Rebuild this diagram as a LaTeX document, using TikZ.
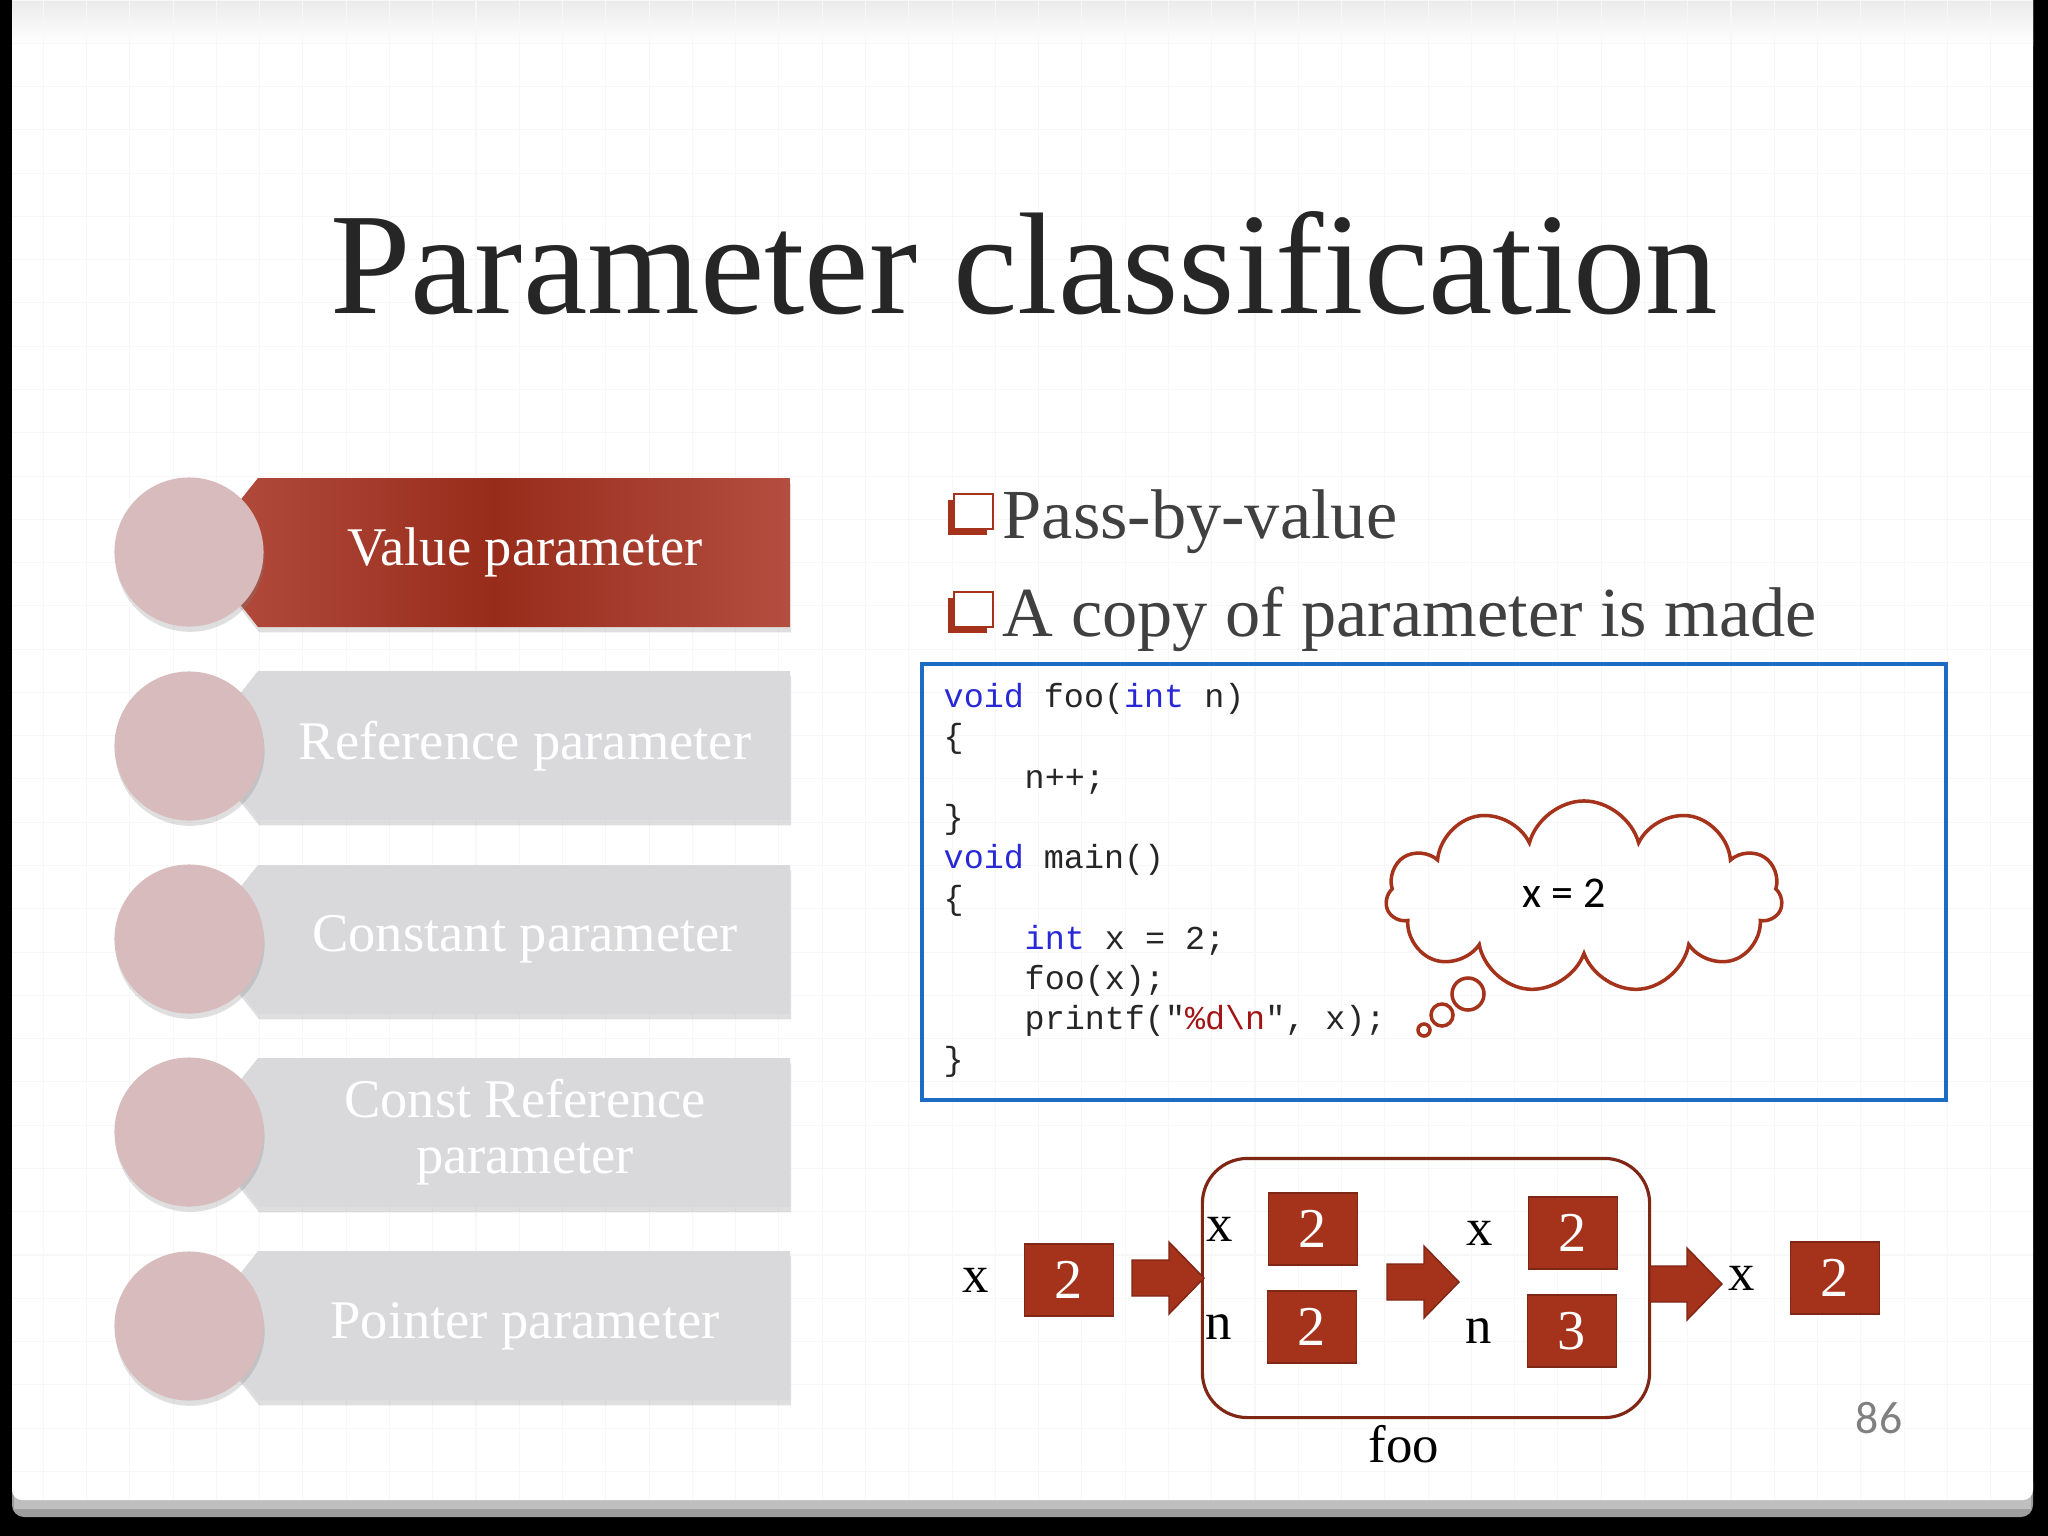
\documentclass[tikz,border=0pt]{standalone}
\usepackage{fontspec}
\setmainfont{Liberation Serif}
\setmonofont{Liberation Mono}
\newfontfamily\calfont{Carlito}
\usetikzlibrary{positioning,shapes.symbols,shadows}

\definecolor{slidered}{RGB}{165,50,26}
\definecolor{edgered}{RGB}{128,38,21}
\definecolor{hlred}{RGB}{180,78,64}
\definecolor{hldark}{RGB}{152,44,27}
\definecolor{dotpink}{RGB}{216,187,188}
\definecolor{boxgrey}{RGB}{217,216,219}
\definecolor{codeblue}{RGB}{28,108,196}
\definecolor{kwblue}{RGB}{40,40,215}
\definecolor{strred}{RGB}{163,21,21}
\definecolor{textgrey}{RGB}{64,64,64}
\definecolor{numgrey}{RGB}{128,128,128}
\definecolor{gridgrey}{RGB}{247,247,248}

\tikzset{
  itemshadow/.style={drop shadow={shadow xshift=0.3pt,shadow yshift=-1.5pt,opacity=0.25}},
  greybox/.style={fill=boxgrey,itemshadow},
  dot/.style={circle,fill=dotpink,minimum size=1.49cm,inner sep=0pt,itemshadow},
  itemtext/.style={text=white,font=\fontsize{15.5}{16}\selectfont,align=center},
  bullettext/.style={anchor=base west,inner sep=0pt,text=textgrey,font=\fontsize{20}{24}\selectfont},
  codeline/.style={anchor=base west,inner sep=0pt,text=black!85,font=\fontsize{9.5}{11}\ttfamily},
  valbox/.style={fill=slidered,draw=edgered,line width=0.5pt,minimum width=0.89cm,minimum height=0.72cm,inner sep=0pt,text=white,font=\fontsize{16}{18}\selectfont},
  varlabel/.style={inner sep=0pt,font=\fontsize{15}{17}\selectfont},
  blockarrow/.style={fill=slidered,draw=edgered,line width=0.4pt},
  cloudline/.style={draw=slidered,line width=1pt}
}
\newcommand{\kwd}[1]{\textcolor{kwblue}{#1}}
\newcommand{\sqbullet}[2]{%
  \fill[slidered] (#1,#2+6) rectangle (#1+39,#2+41);
  \filldraw[fill=white,draw=slidered,line width=0.8pt] (#1+6,#2) rectangle (#1+45,#2+35);}
\newcommand{\blockarrow}[2]{%
  \filldraw[blockarrow] (#1,#2-18) -- (#1+37,#2-18) -- (#1+37,#2-36) -- (#1+72,#2)
    -- (#1+37,#2+36) -- (#1+37,#2+18) -- (#1,#2+18) -- cycle;}

\begin{document}
\begin{tikzpicture}[x=0.01cm,y=-0.01cm]
\useasboundingbox (0,0) rectangle (2048,1536);
\fill[black] (0,0) rectangle (2048,1536);
\fill[black!38,rounded corners=0.12cm] (12,1470) rectangle (2033,1517);
\fill[black!25] (14,1470) rectangle (2031,1509);
\fill[white,rounded corners=0.1cm] (12,-20) rectangle (2033,1500);
\shade[top color=black!8,bottom color=white] (12,0) rectangle (2033,45);
\draw[gridgrey,line width=0.3pt,step=0.4325cm] (12,0) grid (2033,1500);

\node[anchor=base,text=black!85,font=\fontsize{41.2}{48}\selectfont] (title) at (1024,313) {Parameter classification};

\path[itemshadow,left color=hlred,right color=hlred,middle color=hldark] (258,478) -- (790,478) -- (790,627) -- (258,627) -- (199,552) -- cycle;
\node[dot] (dot1) at (189,552) {};
\node[itemtext] (item1) at (525,552) {Value parameter};
\fill[greybox] (258,671) -- (790,671) -- (790,820) -- (258,820) -- (199,746) -- cycle;
\node[dot] (dot2) at (189,746) {};
\node[itemtext] (item2) at (525,746) {Reference parameter};
\fill[greybox] (258,865) -- (790,865) -- (790,1014) -- (258,1014) -- (199,939) -- cycle;
\node[dot] (dot3) at (189,939) {};
\node[itemtext] (item3) at (525,939) {Constant parameter};
\fill[greybox] (258,1058) -- (790,1058) -- (790,1207) -- (258,1207) -- (199,1132) -- cycle;
\node[dot] (dot4) at (189,1132) {};
\node[itemtext] (item4) at (525,1132) {Const Reference\\parameter};
\fill[greybox] (258,1251) -- (790,1251) -- (790,1400) -- (258,1400) -- (199,1326) -- cycle;
\node[dot] (dot5) at (189,1326) {};
\node[itemtext] (item5) at (525,1326) {Pointer parameter};

\sqbullet{948}{494}
\node[bullettext] (pass) at (1002,538) {Pass-by-value};
\sqbullet{948}{592}
\node[bullettext] (copy) at (1002,636) {A copy of parameter is made};

\node[draw=codeblue,line width=0.04cm,minimum width=10.24cm,minimum height=4.35cm] (codebox) at (1434,882) {};
\node[codeline] (c1) at (943,707) {\kwd{void} foo(\kwd{int} n)};
\node[codeline] (c2) at (943,747) {\{};
\node[codeline] (c3) at (1024,788) {n++;};
\node[codeline] (c4) at (943,828) {\}};
\node[codeline] (c5) at (943,868) {\kwd{void} main()};
\node[codeline] (c6) at (943,909) {\{};
\node[codeline] (c7) at (1024,949) {\kwd{int} x = 2;};
\node[codeline] (c8) at (1024,989) {foo(x);};
\node[codeline] (c9) at (1024,1029) {printf("\textcolor{strred}{\%d\textbackslash n}", x);};
\node[codeline] (c10) at (943,1070) {\}};

\node[cloud,cloud puffs=11,aspect=2.1,cloudline,minimum width=3.96cm,minimum height=1.92cm,inner sep=0pt] (cloud) at (1584,897) {};
\node[font=\calfont\fontsize{12.5}{14}\selectfont] (xval) at (1564,893) {x = 2};
\draw[cloudline] (1468,994) circle[radius=16];
\draw[cloudline] (1442,1015) circle[radius=11];
\draw[cloudline] (1424,1030) circle[radius=6];

\node[valbox] (xin) at (1069,1280) {2};
\node[varlabel,left=0.34cm of xin] (xinlab) {x};
\node[draw=edgered,line width=0.9pt,rounded corners=0.45cm,minimum width=4.47cm,minimum height=2.59cm] (foo) at (1426,1288) {};
\node[valbox] (fx) at (1313,1229) {2};
\node[varlabel,left=0.34cm of fx] (fxlab) {x};
\node[valbox] (fn) at (1312,1327) {2};
\node[varlabel,left=0.34cm of fn] (fnlab) {n};
\node[valbox] (gx) at (1573,1233) {2};
\node[varlabel,left=0.34cm of gx] (gxlab) {x};
\node[valbox] (gn) at (1572,1331) {3};
\node[varlabel,left=0.34cm of gn] (gnlab) {n};
\node[valbox] (xout) at (1835,1278) {2};
\node[varlabel,left=0.34cm of xout] (xoutlab) {x};
\node[varlabel,anchor=base] (foolab) at (1404,1462) {foo};
\blockarrow{1132}{1278}
\blockarrow{1387}{1282}
\blockarrow{1650}{1284}
\node[font=\calfont\fontsize{13}{15}\selectfont,text=numgrey] (page) at (1879,1418) {86};
\end{tikzpicture}
\end{document}
